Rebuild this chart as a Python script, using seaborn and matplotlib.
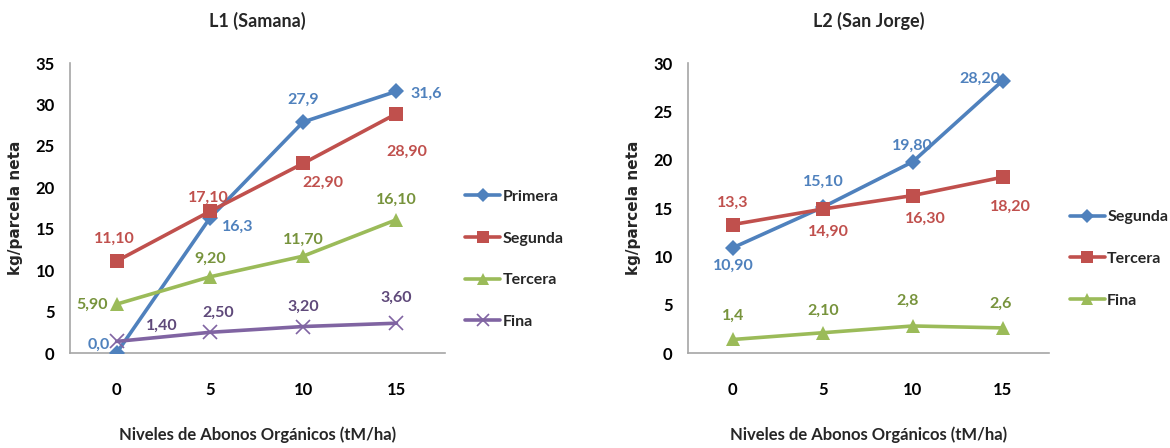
import matplotlib
matplotlib.use("Agg")
import matplotlib.pyplot as plt
from matplotlib.lines import Line2D
import seaborn as sns
import pandas as pd

# Organic fertiliser levels (tM/ha)
niveles = [0, 5, 10, 15]

# L1 (Samana) yields, kg/parcela neta
l1_series = ["Primera", "Segunda", "Tercera", "Fina"]
l1_primera = [0.0, 16.3, 27.9, 31.6]
l1_segunda = [11.10, 17.10, 22.90, 28.90]
l1_tercera = [5.90, 9.20, 11.70, 16.10]
l1_fina = [1.40, 2.50, 3.20, 3.60]
l1_labels = {
    "Primera": ["0,0", "16,3", "27,9", "31,6"],
    "Segunda": ["11,10", "17,10", "22,90", "28,90"],
    "Tercera": ["5,90", "9,20", "11,70", "16,10"],
    "Fina": ["1,40", "2,50", "3,20", "3,60"],
}

# L2 (San Jorge) yields, kg/parcela neta
l2_series = ["Segunda", "Tercera", "Fina"]
l2_segunda = [10.90, 15.10, 19.80, 28.20]
l2_tercera = [13.3, 14.90, 16.30, 18.20]
l2_fina = [1.4, 2.10, 2.8, 2.6]
l2_labels = {
    "Segunda": ["10,90", "15,10", "19,80", "28,20"],
    "Tercera": ["13,3", "14,90", "16,30", "18,20"],
    "Fina": ["1,4", "2,10", "2,8", "2,6"],
}

BLUE, RED, GREEN, PURPLE = "#4F81BD", "#C0504D", "#9BBB59", "#8064A2"
TXT = {BLUE: "#4F81BD", RED: "#C0504D", GREEN: "#77933C", PURPLE: "#5F497A"}

sns.set_theme(style="white")
plt.rcParams["font.family"] = ["Lato", "DejaVu Sans"]

fig = plt.figure(figsize=(11.7, 4.48), dpi=100)
ax1 = fig.add_axes([0.0598, 0.212, 0.3205, 0.647])
ax2 = fig.add_axes([0.588, 0.212, 0.309, 0.647])

# label offsets in pixels (dx, dy) per point
l1_style = {
    "Primera": (BLUE, "D", 8, [(-18, 8), (28, -9), (0, 22), (30, -2)]),
    "Segunda": (RED, "s", 10, [(-2, 22), (-2, 14), (20, -19), (10, -38)]),
    "Tercera": (GREEN, "^", 10, [(-25, -1), (0, 18), (0, 16), (0, 20)]),
    "Fina": (PURPLE, "x", 10, [(45, 16), (8, 20), (0, 20), (0, 25)]),
}
l2_style = {
    "Segunda": (BLUE, "D", 8, [(0, -18), (0, 25), (0, 16), (-23, 2)]),
    "Tercera": (RED, "s", 10, [(0, 22), (6, -23), (13, -23), (8, -30)]),
    "Fina": (GREEN, "^", 10, [(0, 24), (0, 22), (-5, 25), (-2, 24)]),
}

l1_values = {"Primera": l1_primera, "Segunda": l1_segunda,
             "Tercera": l1_tercera, "Fina": l1_fina}
l2_values = {"Segunda": l2_segunda, "Tercera": l2_tercera, "Fina": l2_fina}


def draw(ax, names, values, labels, styles, ymax, title, legend_top):
    handles = []
    for name in names:
        color, marker, ms, offs = styles[name]
        df = pd.DataFrame({"x": niveles, "y": values[name]})
        mew = 1.2 if marker == "x" else 0
        sns.lineplot(data=df, x="x", y="y", ax=ax, color=color, lw=2.6,
                     marker=marker, markersize=ms, markeredgewidth=mew,
                     markeredgecolor=color, zorder=3)
        for xv, yv, lab, (dx, dy) in zip(niveles, values[name], labels[name], offs):
            ax.annotate(lab, (xv, yv), xytext=(dx, dy), textcoords="offset pixels",
                        ha="center", va="center", fontsize=11.5, color=TXT[color],
                        fontweight="bold", annotation_clip=False)
        handles.append(Line2D([], [], color=color, lw=2.6, marker=marker,
                              markersize=ms - 1, markeredgewidth=mew,
                              markeredgecolor=color, label=name))
    ax.set_xlim(-2.5, 17.6)
    ax.set_ylim(0, ymax)
    ax.set_xticks(niveles)
    ax.set_yticks(range(0, ymax + 1, 5))
    ax.tick_params(axis="both", length=0, labelsize=12, colors="black")
    ax.tick_params(axis="x", pad=21)
    ax.tick_params(axis="y", pad=11)
    for lab in ax.get_xticklabels() + ax.get_yticklabels():
        lab.set_fontweight("bold")
    for side in ["top", "right"]:
        ax.spines[side].set_visible(False)
    for side in ["left", "bottom"]:
        ax.spines[side].set_color("#A6A6A6")
        ax.spines[side].set_linewidth(1.2)
    ax.set_title(title, fontsize=13, fontweight="bold", pad=26)
    ax.set_xlabel("Niveles de Abonos Orgánicos (tM/ha)", fontsize=12,
                  fontweight="bold", labelpad=20)
    ax.set_ylabel("kg/parcela neta", fontsize=11, fontweight="bold",
                  family=["DejaVu Sans"], labelpad=9)
    leg = ax.legend(handles=handles, loc="upper left", bbox_to_anchor=legend_top,
                    frameon=False, fontsize=11.5, handlelength=2.2,
                    handletextpad=0.15, labelspacing=1.72, borderaxespad=0)
    for t in leg.get_texts():
        t.set_fontweight("bold")


draw(ax1, l1_series, l1_values, l1_labels, l1_style, 35, "L1 (Samana)", (1.037, 0.585))
draw(ax2, l2_series, l2_values, l2_labels, l2_style, 30, "L2 (San Jorge)", (1.038, 0.515))

fig.savefig("out.png", dpi=100)
